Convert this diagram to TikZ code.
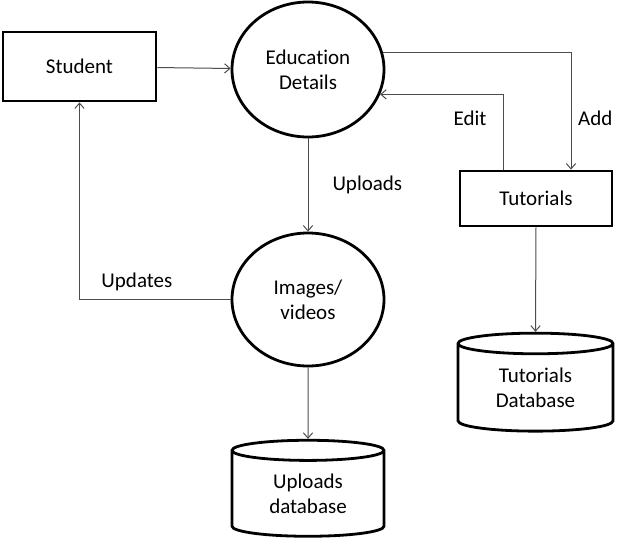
\documentclass[tikz,border=0pt]{standalone}
\usepackage{fontspec}
\setmainfont{Carlito}[Ligatures={NoCommon,TeX}]
\usetikzlibrary{arrows.meta,shapes.geometric,calc}

\tikzset{every picture/.style={line width=0.75pt}}
\tikzset{
  dfdtext/.style={font=\fontsize{15.75}{18.75}\selectfont, align=center},
  entitybox/.style={dfdtext, draw, line width=2.1pt, rectangle},
  procell/.style={dfdtext, draw, line width=2.1pt, ellipse, inner sep=0pt},
  datastore/.style={dfdtext, draw, line width=2.1pt, cylinder, shape border rotate=90, aspect=0.26, inner sep=0pt},
  flow/.style={draw=black!70, line width=0.75pt, -{Straight Barb[length=4pt,width=7pt]}},
  flowlabel/.style={dfdtext, inner sep=0pt}
}

\begin{document}
\begin{tikzpicture}[x=0.75pt,y=0.75pt,yscale=-1,xscale=1]
\useasboundingbox (0,0) rectangle (626,544);

% Entities and processes
\node[entitybox, minimum width=114.75pt, minimum height=51.75pt] (stu) at (79.5,66.5) {Student};
\node[procell, minimum width=114pt, minimum height=101.25pt] (edu) at (308,69.5) {Education\\Details};
\node[procell, minimum width=114pt, minimum height=99.75pt] (img) at (308,299.5) {Images/\\videos};
\node[entitybox, minimum width=114pt, minimum height=41.25pt] (tut) at (536,198.5) {Tutorials};

% Data stores
\node[datastore, minimum width=114pt, minimum height=72pt] (udb) at (308,494) {Uploads\\database};
\node[datastore, minimum width=116.25pt, minimum height=73.5pt] (tdb) at (535.5,388) {Tutorials\\Database};

% Flows
\draw[flow] (stu) -- (edu);
\draw[flow] (edu.south) -- (img.north) node[flowlabel, midway, right=18pt] {Uploads};
\draw[flow] (img.west) -| (stu.south) node[flowlabel, pos=0.31, above=6pt] {Updates};
\draw[flow] (img.south) -- (udb.north);
\draw[flow] (edu.13) -| ($(tut.north)+(35,0)$) node[flowlabel, pos=0.78, right=5pt] {Add};
\draw[flow] ($(tut.north)+(-33,0)$) |- (edu.-19) node[flowlabel, pos=0.34, left=12pt] {Edit};
\draw[flow] (tut.south) -- (tdb.north);
\end{tikzpicture}
\end{document}
